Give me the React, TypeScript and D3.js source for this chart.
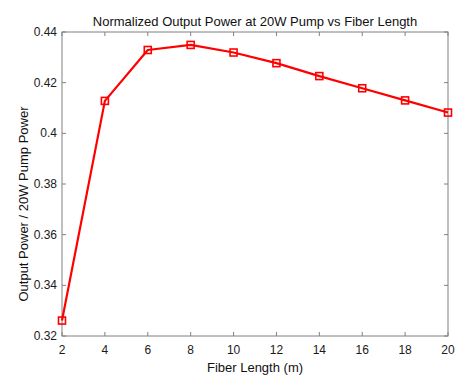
import React from "react";
import * as d3 from "d3";

const fiberLength = [2, 4, 6, 8, 10, 12, 14, 16, 18, 20];
const normPower = [0.3261, 0.4128, 0.4329, 0.4349, 0.4319, 0.4277, 0.4226, 0.4178, 0.4130, 0.4082];
const xTicks = [2, 4, 6, 8, 10, 12, 14, 16, 18, 20];
const yTicks = [0.32, 0.34, 0.36, 0.38, 0.4, 0.42, 0.44];

const W = 471, H = 380;
const L = 62, R = 448, T = 32, B = 336;

export default function App() {
  const x = d3.scaleLinear().domain([2, 20]).range([L, R]);
  const y = d3.scaleLinear().domain([0.32, 0.44]).range([B, T]);
  const line = d3.line<number>().x((_, i) => x(fiberLength[i])).y((d) => y(d));
  const font = "Liberation Sans, Arial, sans-serif";
  const tk = 4;
  const axisColor = "#808080";
  return (
    <svg width={W} height={H} style={{ position: "absolute", left: 0, top: 0, background: "#fff" }} fontFamily={font}>
      <rect x={0} y={0} width={W} height={H} fill="#fff" />
      <rect x={L} y={T} width={R - L} height={B - T} fill="#fff" stroke={axisColor} strokeWidth={1} />
      {xTicks.map((t) => (
        <g key={"x" + t}>
          <line x1={x(t)} x2={x(t)} y1={B} y2={B - tk} stroke={axisColor} />
          <line x1={x(t)} x2={x(t)} y1={T} y2={T + tk} stroke={axisColor} />
          <text x={x(t)} y={354} textAnchor="middle" fontSize={12} fill="#1a1a1a">{t}</text>
        </g>
      ))}
      {yTicks.map((t) => (
        <g key={"y" + t}>
          <line x1={L} x2={L + tk} y1={y(t)} y2={y(t)} stroke={axisColor} />
          <line x1={R} x2={R - tk} y1={y(t)} y2={y(t)} stroke={axisColor} />
          <text x={57} y={y(t) + 4} textAnchor="end" fontSize={12} fill="#1a1a1a">{d3.format("")(+t.toFixed(2))}</text>
        </g>
      ))}
      <path d={line(normPower) || ""} fill="none" stroke="#ff0000" strokeWidth={2.2} strokeLinejoin="round" />
      {normPower.map((v, i) => (
        <rect key={"m" + i} x={x(fiberLength[i]) - 3.5} y={y(v) - 3.5} width={7} height={7} fill="none" stroke="#ff0000" strokeWidth={1.6} />
      ))}
      <text x={(L + R) / 2} y={26} textAnchor="middle" fontSize={13} fill="#111">Normalized Output Power at 20W Pump vs Fiber Length</text>
      <text x={(L + R) / 2} y={372} textAnchor="middle" fontSize={13} fill="#111">Fiber Length (m)</text>
      <text transform={`translate(28,204) rotate(-90)`} textAnchor="middle" fontSize={13} fill="#111">Output Power / 20W Pump Power</text>
    </svg>
  );
}
